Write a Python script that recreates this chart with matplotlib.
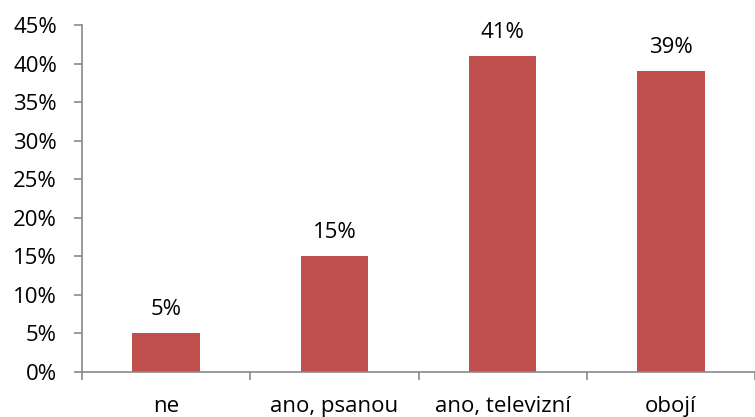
import matplotlib.pyplot as plt
import numpy as np

categories = ["ne", "ano, psanou", "ano, televizní", "obojí"]
values = [5, 15, 41, 39]
yticks = [0, 5, 10, 15, 20, 25, 30, 35, 40, 45]

BAR = "#C0504D"
AXIS = "#898989"
FS = 16

plt.rcParams["font.family"] = ["Open Sans", "DejaVu Sans"]

fig = plt.figure(figsize=(7.55, 4.17), dpi=100)
ax = fig.add_axes([82 / 755, 45 / 417, 673 / 755, 347 / 417])

x = np.arange(len(categories))
ax.bar(x, values, width=0.4, color=BAR)
for xi, v in zip(x, values):
    ax.annotate(f"{v}%", (xi, v), xytext=(0, 13), textcoords="offset points",
                ha="center", va="baseline", fontsize=FS, color="black")

ax.set_xlim(-0.5, len(categories) - 0.5)
ax.set_ylim(0, 45)
ax.set_yticks(yticks, [f"{t}%" for t in yticks])
ax.set_xticks(x, categories)
ax.set_xticks(np.arange(len(categories) + 1) - 0.5, minor=True)
ax.tick_params(axis="x", which="major", length=0, pad=17.5, labelsize=FS)
ax.tick_params(axis="x", which="minor", length=6, width=1.2, color=AXIS)
ax.tick_params(axis="y", length=6, width=1.2, color=AXIS, pad=12, labelsize=FS)

for side in ["top", "right"]:
    ax.spines[side].set_visible(False)
for side in ["left", "bottom"]:
    ax.spines[side].set_color(AXIS)
    ax.spines[side].set_linewidth(1.2)

fig.savefig("out.png", dpi=100, facecolor="white")
